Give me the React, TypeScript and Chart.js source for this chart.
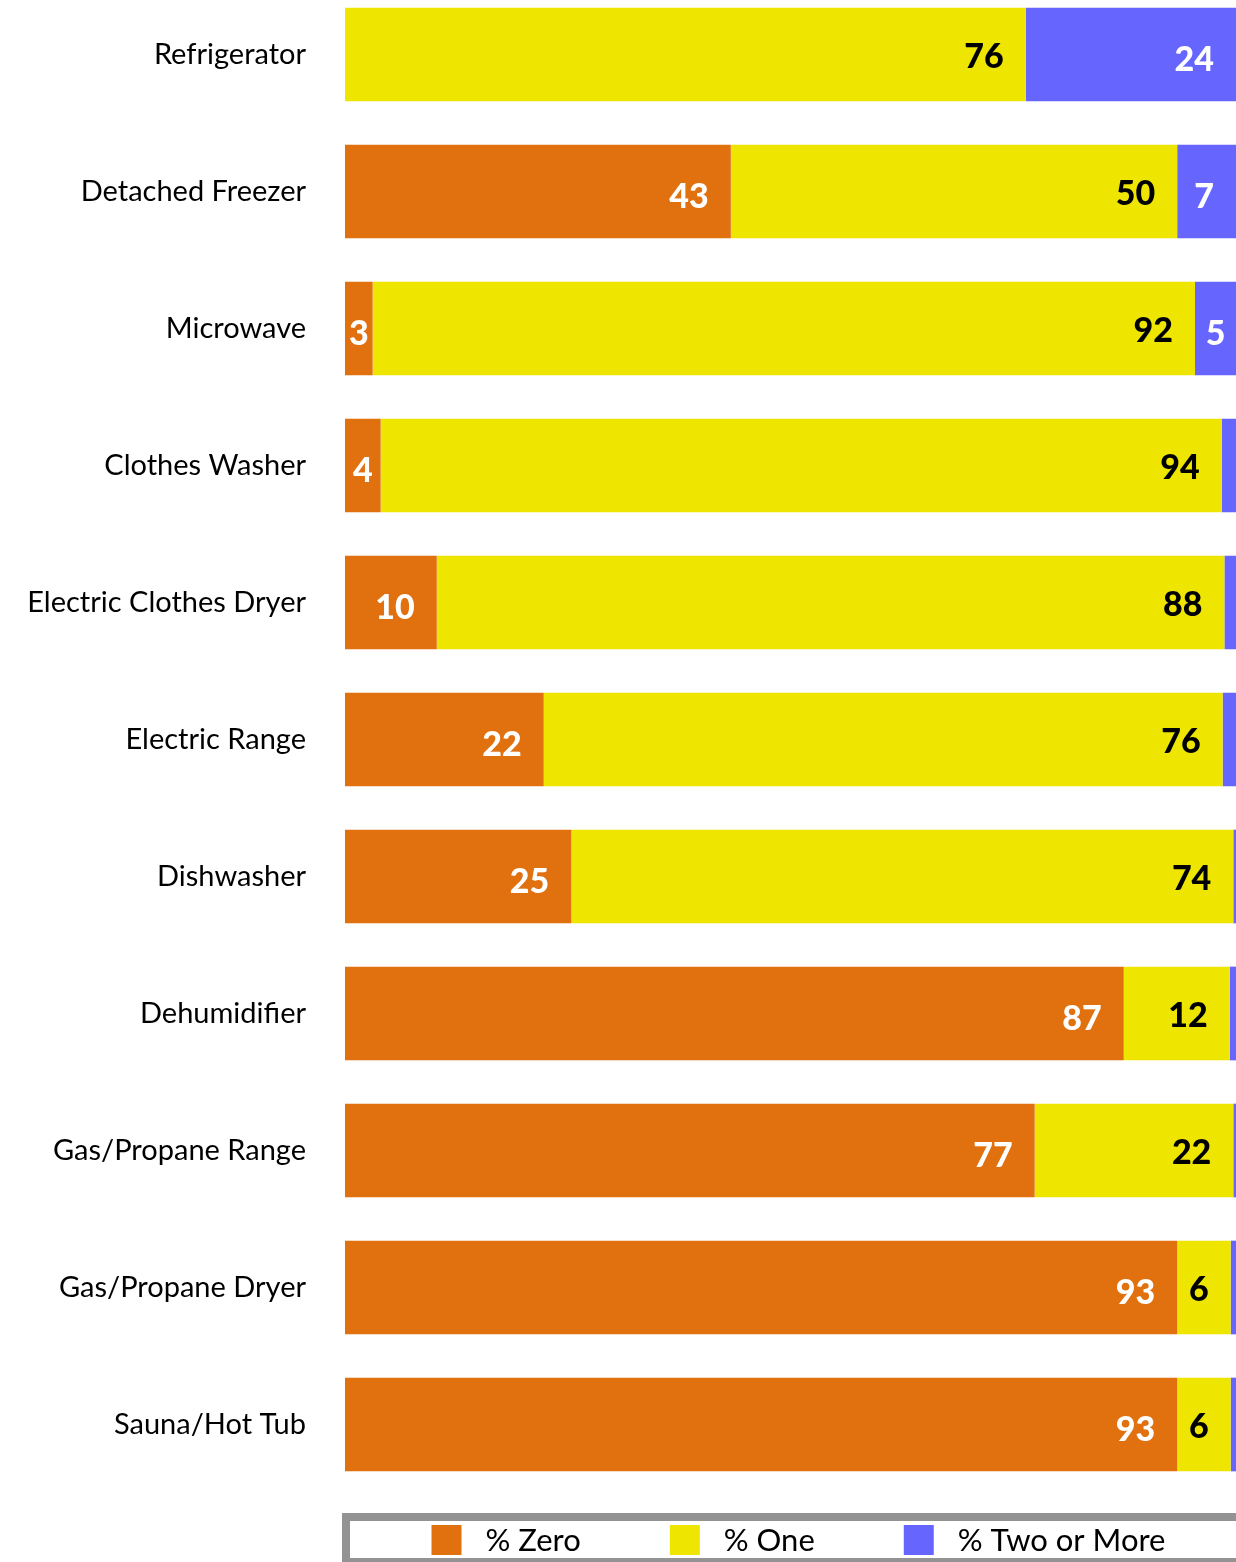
import React, { useEffect, useRef } from "react";
import { Chart, registerables } from "chart.js";

Chart.register(...registerables);

const categories = [
  "Refrigerator",
  "Detached Freezer",
  "Microwave",
  "Clothes Washer",
  "Electric Clothes Dryer",
  "Electric Range",
  "Dishwasher",
  "Dehumidifier",
  "Gas/Propane Range",
  "Gas/Propane Dryer",
  "Sauna/Hot Tub",
];

const zeroValues = [0, 43.3, 3.1, 4.0, 10.3, 22.3, 25.4, 87.4, 77.4, 93.4, 93.4];
const oneValues = [76.4, 50.1, 92.3, 94.4, 88.4, 76.2, 74.3, 11.9, 22.3, 6.0, 6.0];
const twoOrMoreValues = [23.6, 6.6, 4.6, 1.6, 1.3, 1.5, 0.3, 0.7, 0.3, 0.6, 0.6];

const seriesNames = ["% Zero", "% One", "% Two or More"];
const seriesColors = ["#E1700E", "#EEE600", "#6666FF"];
const valueLabelColors = ["#FFFFFF", "#000000", "#FFFFFF"];

const FONT = "Lato, 'Noto Sans', 'DejaVu Sans', sans-serif";
const CANVAS_W = 1236;
const CANVAS_H = 1636;
const CANVAS_SHIFT = 74;

const valueLabels = {
  id: "valueLabels",
  afterDatasetsDraw(chart: any) {
    const ctx = chart.ctx;
    ctx.save();
    ctx.font = `900 34px ${FONT}`;
    ctx.textBaseline = "alphabetic";
    chart.data.datasets.forEach((ds: any, di: number) => {
      const meta = chart.getDatasetMeta(di);
      meta.data.forEach((bar: any, i: number) => {
        const v = ds.data[i] as number;
        if (v < 2.5) return;
        const { x, base, y } = bar.getProps(["x", "base", "y"], true);
        const text = String(Math.round(v));
        const tw = ctx.measureText(text).width;
        const left = Math.min(x, base);
        const right = Math.max(x, base);
        let tx: number;
        if (right - 22 - tw >= left + 4) {
          ctx.textAlign = "right";
          tx = right - 22;
        } else {
          ctx.textAlign = "center";
          tx = (left + right) / 2;
        }
        const color = valueLabelColors[di];
        ctx.fillStyle = color;
        const dy = color === "#FFFFFF" ? 4 : 1;
        ctx.fillText(text, tx, y + 12 + dy);
      });
    });
    ctx.restore();
  },
};

const boxedLegend = {
  id: "boxedLegend",
  afterDraw(chart: any) {
    const { ctx, chartArea } = chart;
    ctx.save();
    const top = chartArea.bottom + 24;
    ctx.fillStyle = "#FFFFFF";
    ctx.fillRect(chartArea.left + 1, top, chart.width, chart.height - top);
    ctx.strokeStyle = "#939393";
    ctx.lineWidth = 8;
    ctx.strokeRect(chartArea.left + 1, top, chart.width + 20, chart.height - top);

    ctx.font = `31px ${FONT}`;
    const box = 30;
    const gap = 24;
    const spacing = 89;
    const widths = seriesNames.map((n) => box + gap + ctx.measureText(n).width);
    const total = widths.reduce((a, b) => a + b, 0) + spacing * (widths.length - 1);
    let x = (chartArea.left + chartArea.right) / 2 - total / 2 + 8;
    const cy = top + 23;
    ctx.textAlign = "left";
    ctx.textBaseline = "alphabetic";
    seriesNames.forEach((name, i) => {
      ctx.fillStyle = seriesColors[i];
      ctx.fillRect(x, cy - box / 2, box, box);
      ctx.fillStyle = "#000000";
      ctx.fillText(name, x + box + gap, cy + 11);
      x += widths[i] + spacing;
    });
    ctx.restore();
  },
};

export default function App() {
  const canvasRef = useRef<HTMLCanvasElement | null>(null);

  useEffect(() => {
    if (!canvasRef.current) return;
    const seriesData = [zeroValues, oneValues, twoOrMoreValues];
    const chart = new Chart(canvasRef.current, {
      type: "bar",
      data: {
        labels: categories,
        datasets: seriesNames.map((name, i) => ({
          label: name,
          data: seriesData[i],
          backgroundColor: seriesColors[i],
          borderWidth: 0,
          categoryPercentage: 1,
          barPercentage: 0.684,
        })),
      },
      options: {
        indexAxis: "y",
        responsive: false,
        animation: false,
        events: [],
        layout: { padding: { top: 60, bottom: 69, left: 0, right: 0 } },
        plugins: {
          legend: { display: false },
          tooltip: { enabled: false },
        },
        scales: {
          x: { stacked: true, min: 0, max: 100, display: false },
          y: {
            stacked: true,
            grid: { display: false, drawTicks: false },
            border: { display: false },
            ticks: {
              padding: 39,
              color: "#000000",
              font: { family: FONT, size: 29 },
            },
            afterFit: (scale: any) => {
              scale.width = 345;
            },
          },
        },
      },
      plugins: [valueLabels, boxedLegend],
    } as any);
    return () => chart.destroy();
  }, []);

  return (
    <div
      style={{
        position: "absolute",
        left: 0,
        top: 0,
        width: CANVAS_W,
        height: CANVAS_H - CANVAS_SHIFT,
        overflow: "hidden",
        background: "#FFFFFF",
      }}
    >
      <canvas
        ref={canvasRef}
        width={CANVAS_W}
        height={CANVAS_H}
        style={{ position: "absolute", left: 0, top: -CANVAS_SHIFT }}
      />
    </div>
  );
}
